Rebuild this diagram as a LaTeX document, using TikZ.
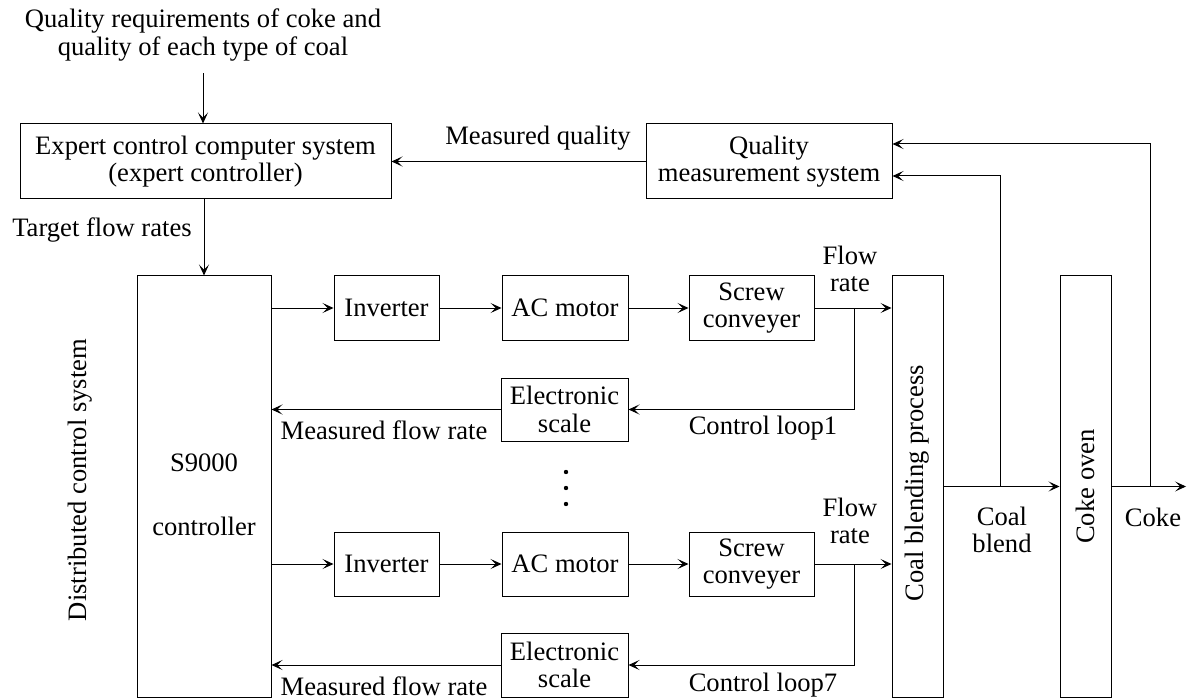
\documentclass[tikz,border=0pt]{standalone}
\usepackage{fontspec}
\setmainfont{Liberation Serif}
\usetikzlibrary{arrows.meta}

\tikzset{
  blk/.style={draw, line width=0.5pt, inner sep=0pt, align=center},
  lbl/.style={inner sep=0pt, align=center},
  flow/.style={line width=0.5pt, -{Stealth[length=5.5pt,width=5pt,inset=2.6pt]}},
  wire/.style={line width=0.5pt}
}

\begin{document}
\begin{tikzpicture}[x=0.5pt, y=-0.5pt, font=\fontsize{13.3}{13.8}\selectfont]
\useasboundingbox (0,0) rectangle (1188,700);
% upper level
\node [lbl] (req) at (203,35) {Quality requirements of coke and\\quality of each type of coal};
\node [blk, minimum width=185.5pt, minimum height=37.5pt] (expert) at (205.5,161.5) {Expert control computer system\\(expert controller)};
\node [blk, minimum width=123pt, minimum height=37.5pt] (quality) at (769,161.5) {Quality\\measurement system};
\node [lbl] (mq) at (538,138) {Measured quality};
\node [lbl] (tfr) at (102,230) {Target flow rates};
% distributed control system
\node [blk, minimum width=67pt, minimum height=210.5pt] (s9000) at (204,486.5) {};
\node [lbl] (s9000txt) at (204,495) {S9000\\[18pt]controller};
\node [lbl, rotate=90] (dcs) at (80,480) {Distributed control system};
% loop 1
\node [blk, minimum width=52.5pt, minimum height=32pt] (inv1) at (386.5,308) {Inverter};
\node [blk, minimum width=63pt, minimum height=32pt] (ac1) at (565,308) {AC motor};
\node [blk, minimum width=62.5pt, minimum height=32pt] (scr1) at (751.5,308) {Screw\\conveyer};
\node [blk, minimum width=63.5pt, minimum height=31.5pt] (es1) at (564.5,409.5) {Electronic\\scale};
% loop 7
\node [blk, minimum width=52.5pt, minimum height=32pt] (inv2) at (386.5,564) {Inverter};
\node [blk, minimum width=63pt, minimum height=32pt] (ac2) at (565,564) {AC motor};
\node [blk, minimum width=62.5pt, minimum height=32pt] (scr2) at (751.5,564) {Screw\\conveyer};
\node [blk, minimum width=63.5pt, minimum height=32pt] (es2) at (564.5,665) {Electronic\\scale};
% process
\node [blk, minimum width=25.5pt, minimum height=210.5pt] (blend) at (917.5,486.5) {};
\node [lbl, rotate=90] (blendtxt) at (917.5,483) {Coal blending process};
\node [blk, minimum width=25.5pt, minimum height=210.5pt] (oven) at (1085.5,486.5) {};
\node [lbl, rotate=90] (oventxt) at (1085.5,486.5) {Coke oven};
% labels
\node [lbl] (fr1) at (850,269) {Flow\\rate};
\node [lbl] (fr2) at (850,521) {Flow\\rate};
\node [lbl] (mfr1) at (384,430) {Measured flow rate};
\node [lbl] (mfr2) at (384,686) {Measured flow rate};
\node [lbl] (cl1) at (763,428) {Control loop1};
\node [lbl] (cl7) at (763,685) {Control loop7};
\node [lbl] (cbl) at (1002,530) {Coal\\blend};
\node [lbl] (coke) at (1153,517) {Coke};
\coordinate (br1) at (854,308);
\coordinate (br2) at (854,564);
\coordinate (tap1) at (1000,486.5);
\coordinate (tap2) at (1150,486.5);
\coordinate (cokeout) at (1186,486.5);
% connectors
\draw[flow] ([yshift=-6pt]req.south) -- (req.south |- expert.north);
\draw[flow] (s9000.north |- expert.south) -- (s9000.north);
\draw[flow] (quality.west) -- (expert.east);
\foreach \i in {1,2} {
  \draw[flow] (s9000.east |- inv\i.west) -- (inv\i.west);
  \draw[flow] (inv\i) -- (ac\i);
  \draw[flow] (ac\i) -- (scr\i);
  \draw[flow] (scr\i.east) -- (scr\i.east -| blend.west);
  \draw[flow] (br\i) |- (es\i.east);
  \draw[flow] (es\i.west) -- (es\i.west -| s9000.east);
}
\foreach \y in {472,488,504} \fill (566,\y) circle[radius=1.1pt];
\draw[flow] (blend.east) -- (oven.west);
\draw[flow] (oven.east) -- (cokeout);
\draw[flow] (tap1) |- ([yshift=-7.25pt]quality.east);
\draw[flow] (tap2) |- ([yshift=8.75pt]quality.east);
\end{tikzpicture}
\end{document}
